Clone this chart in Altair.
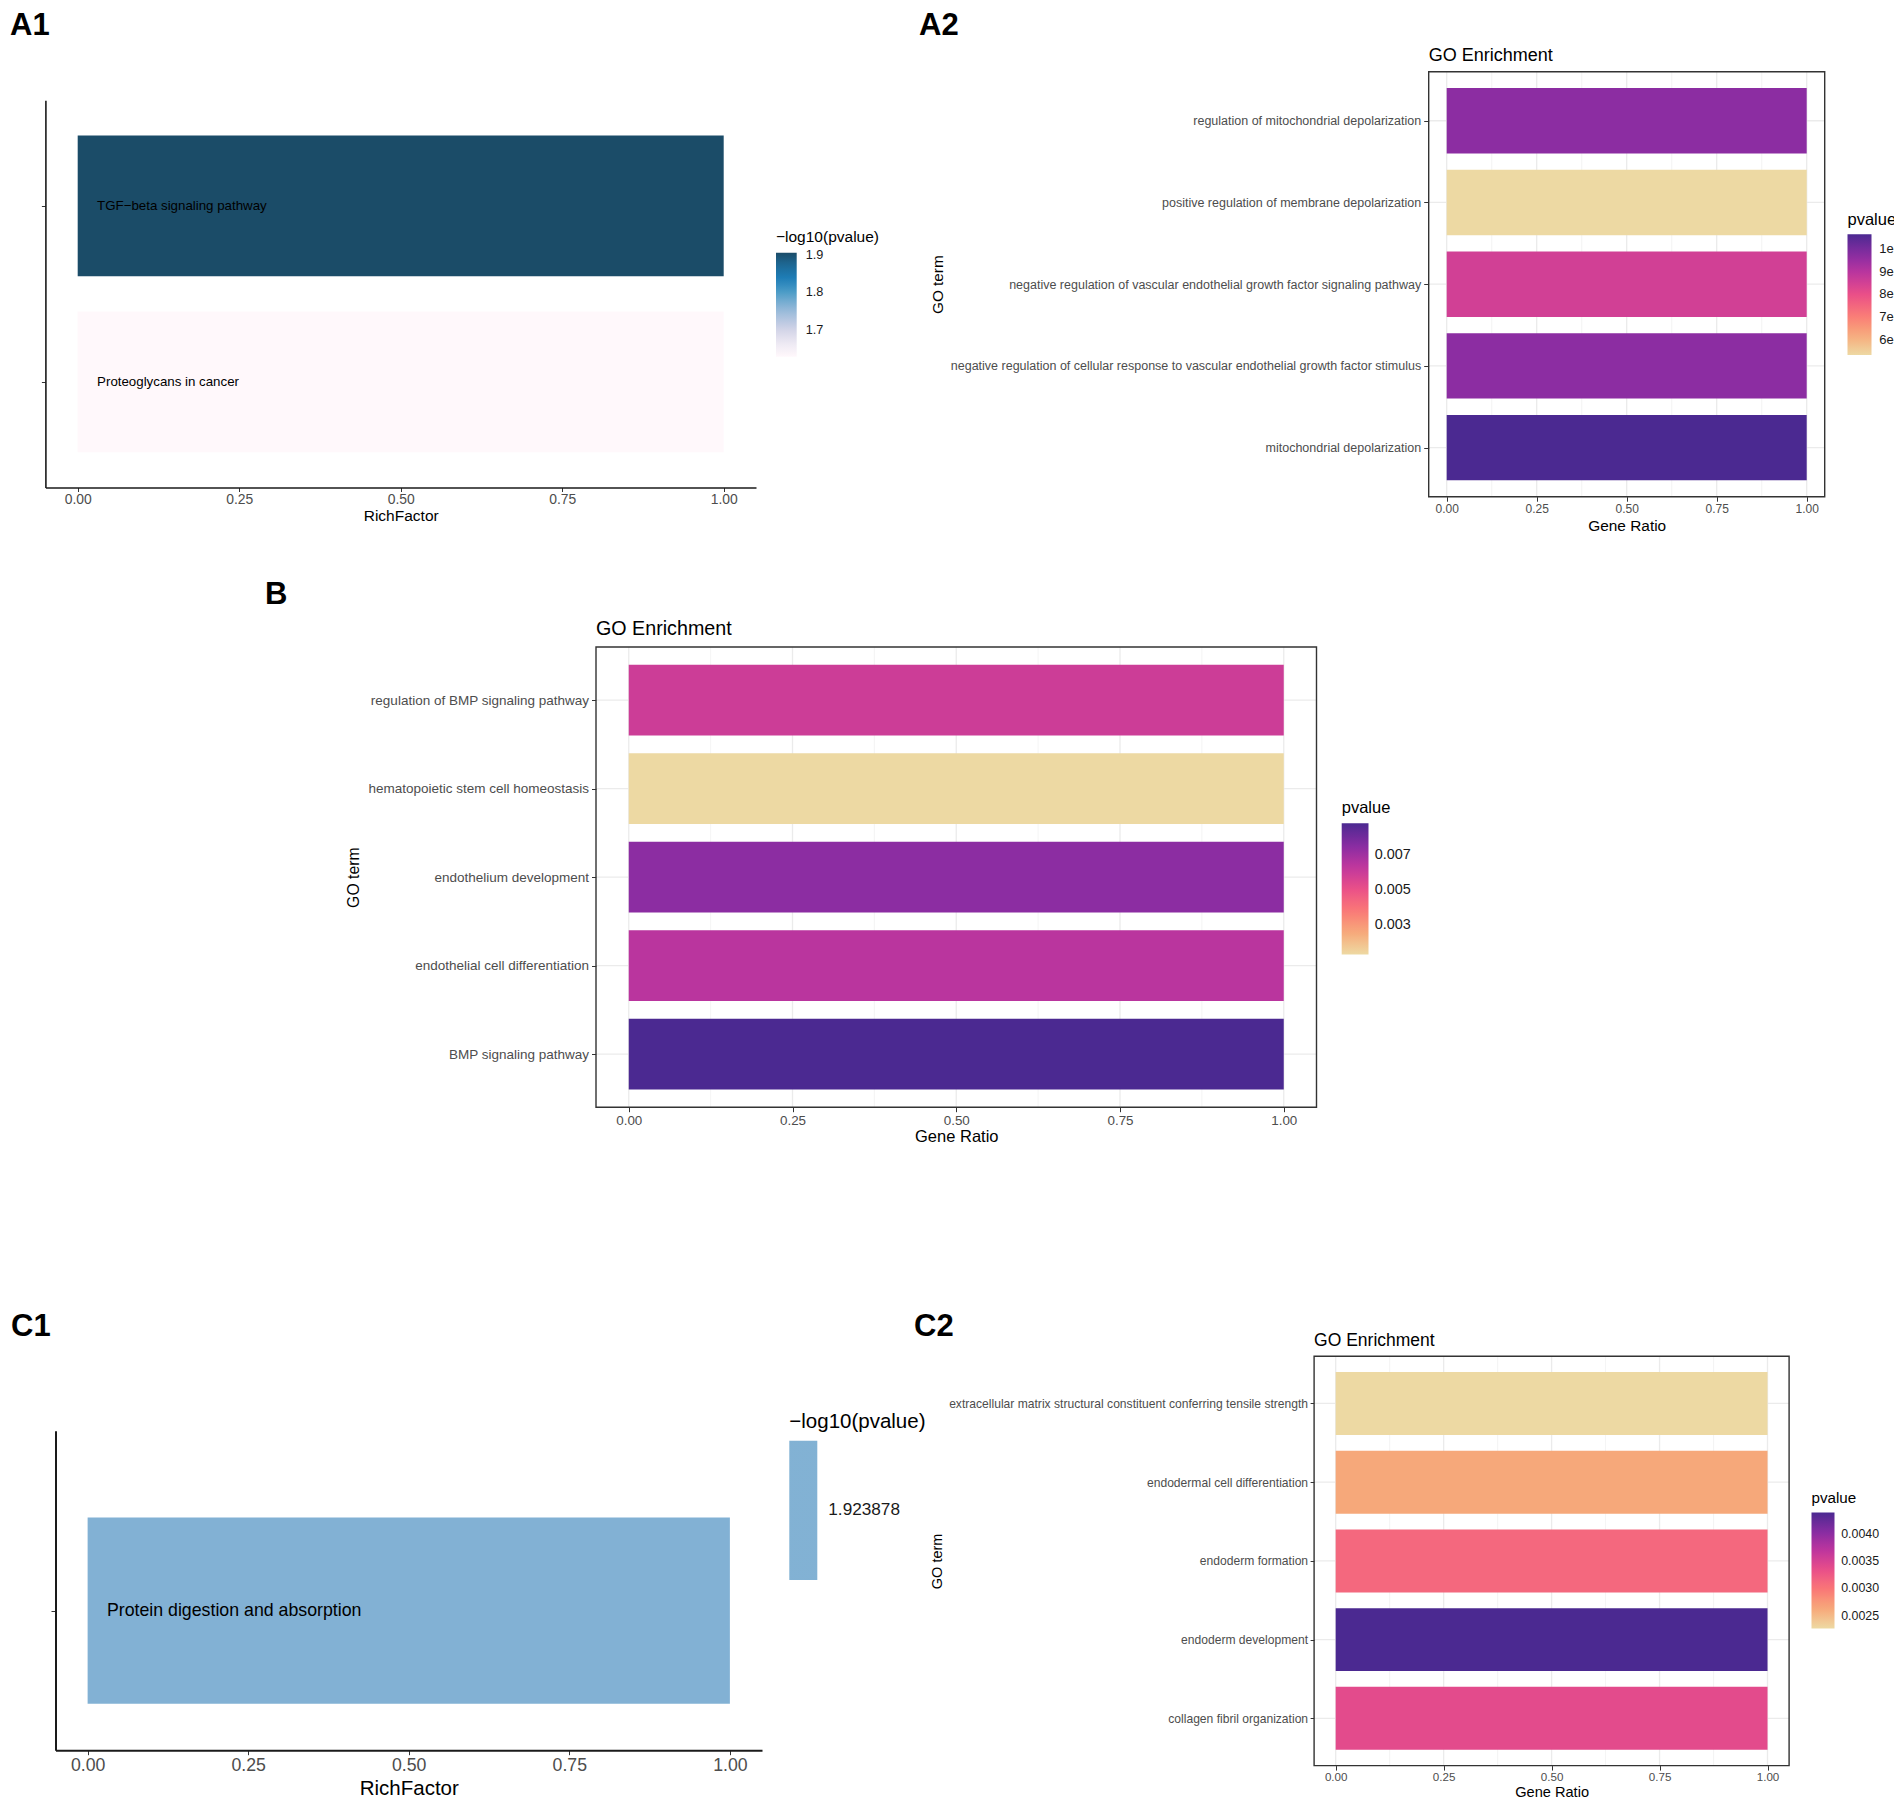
import json
import altair as alt
import pandas as pd

# ---------------- data ----------------
A1_TERMS = ["TGF−beta signaling pathway", "Proteoglycans in cancer"]
A1_RICH = [1.0, 1.0]
A1_LOGP = [1.906, 1.629]
A1_BREAKS = [1.7, 1.8, 1.9]

A2_TERMS = [
    "regulation of mitochondrial depolarization",
    "positive regulation of membrane depolarization",
    "negative regulation of vascular endothelial growth factor signaling pathway",
    "negative regulation of cellular response to vascular endothelial growth factor stimulus",
    "mitochondrial depolarization",
]
A2_RATIO = [1.0, 1.0, 1.0, 1.0, 1.0]
A2_PVALUE = [9.69e-05, 5.34e-05, 8.52e-05, 9.69e-05, 1.0646e-04]
A2_BREAKS = [6e-05, 7e-05, 8e-05, 9e-05, 1e-04]

B_TERMS = [
    "regulation of BMP signaling pathway",
    "hematopoietic stem cell homeostasis",
    "endothelium development",
    "endothelial cell differentiation",
    "BMP signaling pathway",
]
B_RATIO = [1.0, 1.0, 1.0, 1.0, 1.0]
B_PVALUE = [0.00598, 0.00130, 0.00749, 0.00646, 0.00885]
B_BREAKS = [0.003, 0.005, 0.007]

C1_TERMS = ["Protein digestion and absorption"]
C1_RICH = [1.0]
C1_LOGP = [1.923878]
C1_BREAKS = [1.923878]

C2_TERMS = [
    "extracellular matrix structural constituent conferring tensile strength",
    "endodermal cell differentiation",
    "endoderm formation",
    "endoderm development",
    "collagen fibril organization",
]
C2_RATIO = [1.0, 1.0, 1.0, 1.0, 1.0]
C2_PVALUE = [0.00227, 0.00263, 0.00312, 0.00439, 0.00339]
C2_BREAKS = [0.0025, 0.0030, 0.0035, 0.0040]

GENE_TICKS = [0.0, 0.25, 0.5, 0.75, 1.0]
MINOR_TICKS = [0.125, 0.375, 0.625, 0.875]
PANEL_LETTERS = ["A1", "A2", "B", "C1", "C2"]
GO_TITLE = "GO Enrichment"

# ---------------- colours ----------------
SUNSET = ["#edd9a3", "#f6a97a", "#fa7876", "#ea4f88", "#c0369d", "#872ca2", "#4b2991"]
PUBU = ["#fff7fb", "#ece7f2", "#d0d1e6", "#a6bddb", "#74a9cf", "#3690c0", "#0570b0", "#045a8d", "#023858"]
C1_BLUE = "#74a9cf"

# ---------------- layout / style (figure pixel coordinates) ----------------
W, H = 1886, 1793
OFF = 8
FONT = "Liberation Sans"
X_DOMAIN = [-0.05, 1.05]
EXPAND = 0.6
BAR_HALF = 0.4
LABEL_X = 0.03

LAYOUT = {
    "A1": dict(x0=45.4, x1=756.0, ytop=100.3, ybot=487.5),
    "A2": dict(x0=1428.7, x1=1824.7, ytop=71.7, ybot=496.7),
    "B": dict(x0=596.0, x1=1316.5, ytop=647.0, ybot=1107.2),
    "C1": dict(x0=55.5, x1=762.0, ytop=1430.7, ybot=1750.2, hi=1.7727),
    "C2": dict(x0=1314.1, x1=1789.1, ytop=1356.2, ybot=1765.6),
}
LETTER_POS = [(10, 34.6), (919, 34.6), (265, 604), (11, 1336), (914, 1336)]

LEGENDS = {
    "A1": dict(x=776, y=230.1, tpad=7.1, length=104, thick=20.7, loff=9, tfs=15.5, lfs=12.7),
    "A2": dict(x=1847.5, y=212.0, tpad=5.8, length=120.7, thick=24, loff=7.7, tfs=16.5, lfs=13),
    "B": dict(x=1341.7, y=800.4, tpad=6.4, length=131.3, thick=26.8, loff=6.2, tfs=16.5, lfs=14.4),
    "C1": dict(x=789.3, y=1412.4, tpad=7.8, length=139.3, thick=28, loff=11, tfs=20.5, lfs=17.2),
    "C2": dict(x=1811.5, y=1490.5, tpad=6.8, length=115.9, thick=23, loff=6.7, tfs=15.2, lfs=12.4),
}

GO_STYLE = {
    "A2": dict(ylab=12.5, ypad=3, ytick=5, xlab=12, xtick=4.5, xpad=2.4, xt=15.4, xtpad=3.4,
               yt=15.3, ytx=-490.8, title=18, tdy=-11.2),
    "B": dict(ylab=13.5, ypad=3, ytick=4.5, xlab=13.4, xtick=4.5, xpad=1.5, xt=16.5, xtpad=1.5,
              yt=15.8, ytx=-242.6, title=19.7, tdy=-11.7),
    "C2": dict(ylab=12.1, ypad=2.5, ytick=4, xlab=11.6, xtick=4.5, xpad=1.5, xt=14.6, xtpad=1.2,
               yt=14.5, ytx=-376.2, title=17.5, tdy=-10.1),
}
RICH_STYLE = {
    "A1": dict(xlab=13.9, xtick=4, xpad=0.6, xt=15.5, xtpad=2.4, ytick=4, text=13.3, lw=1.6),
    "C1": dict(xlab=17.7, xtick=4.5, xpad=2, xt=20.5, xtpad=3.6, ytick=4.5, text=17.75, lw=2.0),
}


def lims(k, n):
    L = LAYOUT[k]
    return 1 - EXPAND, L.get("hi", n + EXPAND)


def xscale(k):
    L = LAYOUT[k]
    return alt.Scale(domain=X_DOMAIN, range=[L["x0"] - OFF, L["x1"] - OFF], nice=False, zero=False)


def yscale(k, n):
    L = LAYOUT[k]
    lo, hi = lims(k, n)
    return alt.Scale(domain=[lo, hi], range=[L["ybot"] - OFF, L["ytop"] - OFF], nice=False, zero=False)


def legend(k, title, values, fmt=None, expr=None):
    g = LEGENDS[k]
    kw = dict(
        orient="none", legendX=g["x"] - OFF, legendY=g["y"] - OFF, direction="vertical",
        gradientLength=g["length"], gradientThickness=g["thick"], gradientStrokeWidth=0,
        title=title, titleFont=FONT, titleFontSize=g["tfs"], titleFontWeight="normal",
        titleColor="black", titlePadding=g["tpad"], labelFont=FONT, labelFontSize=g["lfs"],
        labelColor="#1a1a1a", labelOffset=g["loff"], values=values, labelOverlap=False, padding=0,
    )
    if fmt:
        kw["format"] = fmt
    if expr:
        kw["labelExpr"] = expr
    return alt.Legend(**kw)


def frame_df(terms, ratio, val):
    n = len(terms)
    return pd.DataFrame({"term": terms, "ratio": ratio, "val": val, "idx": [n - i for i in range(n)]})


def go_panel(k, terms, ratio, pvals, breaks, fmt=None, expr=None):
    st = GO_STYLE[k]
    L = LAYOUT[k]
    n = len(terms)
    lo, hi = lims(k, n)
    xs, ys = xscale(k), yscale(k, n)
    df = frame_df(terms, ratio, pvals)
    bottom_up = list(reversed(terms))

    minor = alt.Chart(pd.DataFrame({"v": MINOR_TICKS})).mark_rule(color="#EFEFEF", strokeWidth=0.7).encode(
        x=alt.X("v:Q", scale=xs, axis=None),
        y=alt.YDatum(lo, type="quantitative", scale=ys, axis=None),
        y2=alt.Y2Datum(hi),
    )
    major = alt.Chart(pd.DataFrame({"v": GENE_TICKS})).mark_rule(color="#EBEBEB", strokeWidth=1.3).encode(
        x=alt.X("v:Q", scale=xs, axis=None),
        y=alt.YDatum(lo, type="quantitative", scale=ys, axis=None),
        y2=alt.Y2Datum(hi),
    )
    hgrid = alt.Chart(pd.DataFrame({"idx": list(range(1, n + 1))})).mark_rule(color="#EBEBEB", strokeWidth=1.3).encode(
        y=alt.Y("idx:Q", scale=ys, axis=None),
        x=alt.XDatum(X_DOMAIN[0], type="quantitative", scale=xs, axis=None),
        x2=alt.X2Datum(X_DOMAIN[1]),
    )
    xaxis = alt.Axis(
        orient="bottom", offset=(L["ybot"] - OFF) - H, values=GENE_TICKS, format=".2f",
        labelFont=FONT, labelFontSize=st["xlab"], labelColor="#4D4D4D", labelPadding=st["xpad"],
        labelFlush=False, labelOverlap=False, ticks=True, tickSize=st["xtick"], tickColor="#333333",
        tickWidth=1, domain=False, grid=False, title="Gene Ratio", titleFont=FONT,
        titleFontSize=st["xt"], titleFontWeight="normal", titleColor="black", titlePadding=st["xtpad"],
    )
    yaxis = alt.Axis(
        orient="left", offset=-(L["x0"] - OFF), values=list(range(1, n + 1)),
        labelExpr=json.dumps(bottom_up) + "[datum.value - 1]",
        labelFont=FONT, labelFontSize=st["ylab"], labelColor="#4D4D4D", labelPadding=st["ypad"],
        labelLimit=3000, labelFlush=False, labelOverlap=False, ticks=True, tickSize=st["ytick"],
        tickColor="#333333", tickWidth=1, domain=False, grid=False, title="GO term", titleFont=FONT,
        titleFontSize=st["yt"], titleFontWeight="normal", titleColor="black",
        titleX=st["ytx"], titleBaseline="middle", titleAlign="center",
    )
    bars = alt.Chart(df).transform_calculate(
        lo=f"datum.idx - {BAR_HALF}", hi=f"datum.idx + {BAR_HALF}"
    ).mark_rect().encode(
        x=alt.X("ratio:Q", scale=xs, axis=xaxis),
        x2=alt.X2Datum(0),
        y=alt.Y("lo:Q", scale=ys, axis=yaxis),
        y2=alt.Y2("hi:Q"),
        color=alt.Color("val:Q", scale=alt.Scale(range=SUNSET, interpolate="lab", nice=False, zero=False),
                        legend=legend(k, "pvalue", breaks, fmt, expr)),
    )
    border = alt.Chart(pd.DataFrame({"panel": [k]})).mark_rect(
        fillOpacity=0, stroke="#333333", strokeWidth=1.4
    ).encode(
        x=alt.XDatum(X_DOMAIN[0], type="quantitative", scale=xs, axis=None),
        x2=alt.X2Datum(X_DOMAIN[1]),
        y=alt.YDatum(lo, type="quantitative", scale=ys, axis=None),
        y2=alt.Y2Datum(hi),
    )
    title = alt.Chart(pd.DataFrame({"t": [GO_TITLE]})).mark_text(
        align="left", baseline="alphabetic", font=FONT, fontSize=st["title"], dy=st["tdy"], color="black"
    ).encode(
        x=alt.XDatum(X_DOMAIN[0], type="quantitative", scale=xs, axis=None),
        y=alt.YDatum(hi, type="quantitative", scale=ys, axis=None),
        text="t:N",
    )
    return [minor, major, hgrid, bars, border, title]


def rich_panel(k, terms, rich, logp, breaks, color_scale, fmt):
    st = RICH_STYLE[k]
    L = LAYOUT[k]
    n = len(terms)
    xs, ys = xscale(k), yscale(k, n)
    df = frame_df(terms, rich, logp)
    xaxis = alt.Axis(
        orient="bottom", offset=(L["ybot"] - OFF) - H, values=GENE_TICKS, format=".2f",
        labelFont=FONT, labelFontSize=st["xlab"], labelColor="#4D4D4D", labelPadding=st["xpad"],
        labelFlush=False, labelOverlap=False, ticks=True, tickSize=st["xtick"], tickColor="#333333",
        tickWidth=1, domain=True, domainColor="#1a1a1a", domainWidth=st["lw"], grid=False,
        title="RichFactor", titleFont=FONT, titleFontSize=st["xt"], titleFontWeight="normal",
        titleColor="black", titlePadding=st["xtpad"],
    )
    yaxis = alt.Axis(
        orient="left", offset=-(L["x0"] - OFF), values=list(range(1, n + 1)), labels=False,
        ticks=True, tickSize=st["ytick"], tickColor="#333333", tickWidth=1, domain=True,
        domainColor="#1a1a1a", domainWidth=st["lw"], grid=False, title="",
    )
    bars = alt.Chart(df).transform_calculate(
        lo=f"datum.idx - {BAR_HALF}", hi=f"datum.idx + {BAR_HALF}"
    ).mark_rect(opacity=0.9).encode(
        x=alt.X("ratio:Q", scale=xs, axis=xaxis),
        x2=alt.X2Datum(0),
        y=alt.Y("lo:Q", scale=ys, axis=yaxis),
        y2=alt.Y2("hi:Q"),
        color=alt.Color("val:Q", scale=color_scale, legend=legend(k, "−log10(pvalue)", breaks, fmt)),
    )
    text = alt.Chart(df).mark_text(
        align="left", baseline="middle", font=FONT, fontSize=st["text"], color="black"
    ).encode(
        x=alt.XDatum(LABEL_X, type="quantitative", scale=xs, axis=None),
        y=alt.Y("idx:Q", scale=ys, axis=None),
        text="term:N",
    )
    return [bars, text]


layers = []
layers += rich_panel("A1", A1_TERMS, A1_RICH, A1_LOGP, A1_BREAKS,
                     alt.Scale(range=PUBU, interpolate="rgb", nice=False, zero=False), ".1f")
layers += go_panel("A2", A2_TERMS, A2_RATIO, A2_PVALUE, A2_BREAKS,
                   expr="replace(format(datum.value, '.0e'), 'e-', 'e-0')")
layers += go_panel("B", B_TERMS, B_RATIO, B_PVALUE, B_BREAKS, fmt=".3f")
c1_dom = [C1_LOGP[0] - 0.01, C1_LOGP[0] + 0.01]
layers += rich_panel("C1", C1_TERMS, C1_RICH, C1_LOGP, C1_BREAKS,
                     alt.Scale(domain=c1_dom, range=[C1_BLUE, C1_BLUE], nice=False, zero=False), ".6f")
layers += go_panel("C2", C2_TERMS, C2_RATIO, C2_PVALUE, C2_BREAKS, fmt=".4f")

for letter, (lx, ly) in zip(PANEL_LETTERS, LETTER_POS):
    layers.append(
        alt.Chart(pd.DataFrame({"t": [letter]})).mark_text(
            align="left", baseline="alphabetic", font=FONT, fontSize=31, fontWeight="bold", color="black"
        ).encode(x=alt.value(lx - OFF), y=alt.value(ly - OFF), text="t:N")
    )

chart = alt.layer(*layers).resolve_scale(
    x="independent", y="independent", color="independent"
).properties(
    width=W, height=H, autosize=alt.AutoSizeParams(type="none"), padding=0, background="white"
).configure_view(strokeWidth=0)

chart.save("out.html", embed_options={"renderer": "svg", "actions": False})
